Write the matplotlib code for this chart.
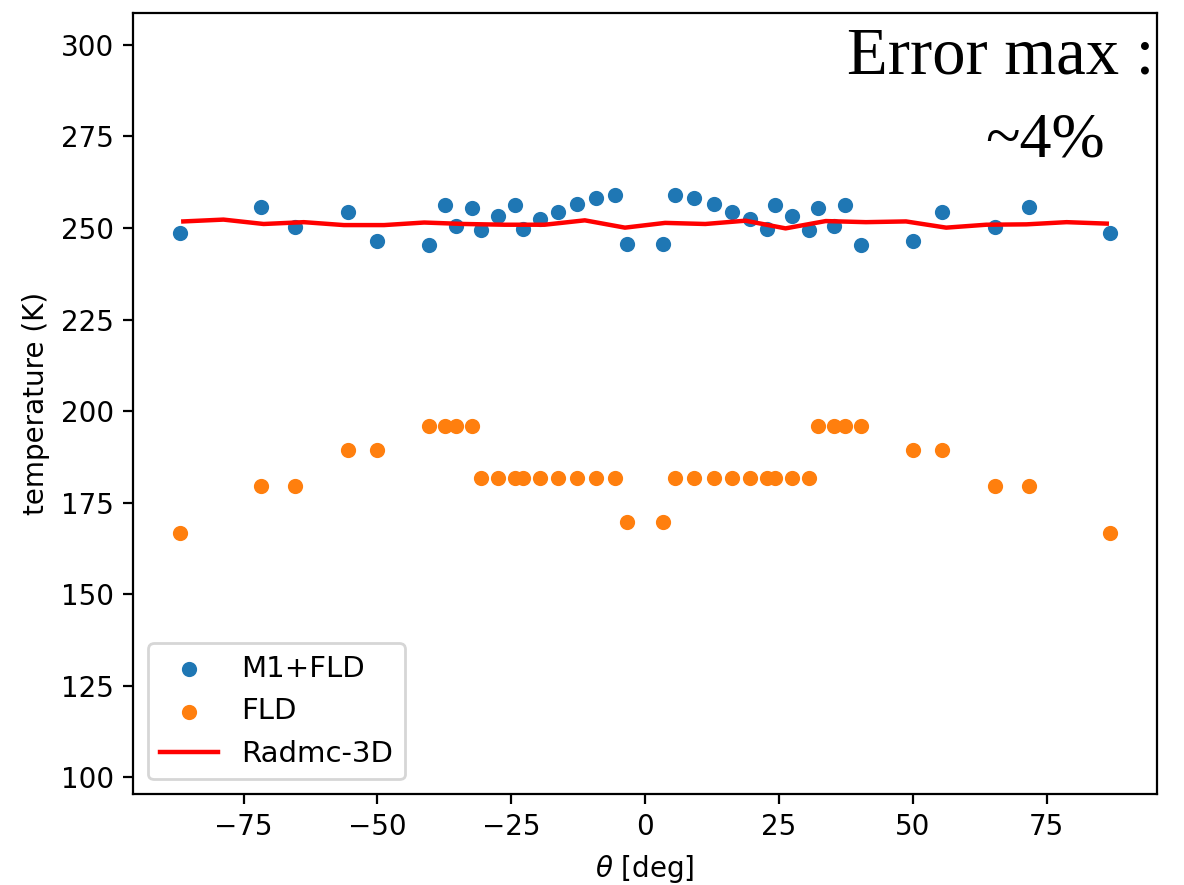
import numpy as np
import matplotlib
matplotlib.use('Agg')  # no display
import matplotlib.pyplot as plt

# angles of the cells (deg)
theta = [-86.9, -71.8, -65.3, -55.5, -50.0, -40.4, -37.4, -35.3, -32.4, -30.6,
         -27.4, -24.2, -22.8, -19.6, -16.3, -12.8, -9.2, -5.6, -3.4,
         3.4, 5.6, 9.2, 12.8, 16.3, 19.6, 22.8, 24.2, 27.4, 30.6,
         32.4, 35.3, 37.4, 40.4, 50.0, 55.5, 65.3, 71.8, 86.9]

# M1+FLD temperature (K)
temp_m1 = [248.6, 255.7, 250.3, 254.5, 246.5, 245.4, 256.3, 250.6, 255.4, 249.5,
           253.2, 256.4, 249.8, 252.5, 254.5, 256.6, 258.1, 259.0, 245.7,
           245.7, 259.0, 258.1, 256.6, 254.5, 252.5, 249.8, 256.4, 253.2, 249.5,
           255.4, 250.6, 256.3, 245.4, 246.5, 254.5, 250.3, 255.7, 248.6]

# FLD temperature (K)
temp_fld = [166.6, 179.4, 179.4, 189.3, 189.3, 195.8, 195.8, 195.8, 195.8, 181.6,
            181.6, 181.6, 181.6, 181.6, 181.6, 181.6, 181.6, 181.6, 169.6,
            169.6, 181.6, 181.6, 181.6, 181.6, 181.6, 181.6, 181.6, 181.6, 181.6,
            195.8, 195.8, 195.8, 195.8, 189.3, 189.3, 179.4, 179.4, 166.6]

# Radmc-3D reference
theta_radmc = [-86.25, -78.75, -71.25, -63.75, -56.25, -48.75, -41.25, -33.75,
               -26.25, -18.75, -11.25, -3.75, 3.75, 11.25, 18.75, 26.25,
               33.75, 41.25, 48.75, 56.25, 63.75, 71.25, 78.75, 86.25]
temp_radmc = [251.8, 252.3, 251.1, 251.6, 250.8, 250.8, 251.5, 251.1,
              250.9, 250.9, 252.1, 250.1, 251.4, 251.1, 252.0, 249.9,
              251.9, 251.6, 251.8, 250.1, 250.9, 251.0, 251.6, 251.2]

fig = plt.figure(figsize=(1184 / 200, 885 / 200), dpi=200)
ax = fig.add_axes([0.1126, 0.1028, 0.8644, 0.8828])

ax.scatter(theta, temp_m1, s=20, color='#1f77b4', label='M1+FLD')
ax.scatter(theta, temp_fld, s=20, color='#ff7f0e', label='FLD')
ax.plot(theta_radmc, temp_radmc, color='red', lw=1.6, label='Radmc-3D')

ax.set_ylim(95.4, 308.8)
ax.set_xlabel(r'$\theta$ [deg]')
ax.set_ylabel('temperature (K)')
ax.legend(loc='lower left', fontsize=10.5)

# annotation
ax.text(0.6974, 0.9224, 'Error max :', transform=ax.transAxes,
        fontsize=24, family='Liberation Serif', va='baseline')
ax.text(0.8322, 0.8157, '~4%', transform=ax.transAxes,
        fontsize=23, family='Liberation Serif', va='baseline')

plt.savefig('out.png', dpi=200)
plt.close()
